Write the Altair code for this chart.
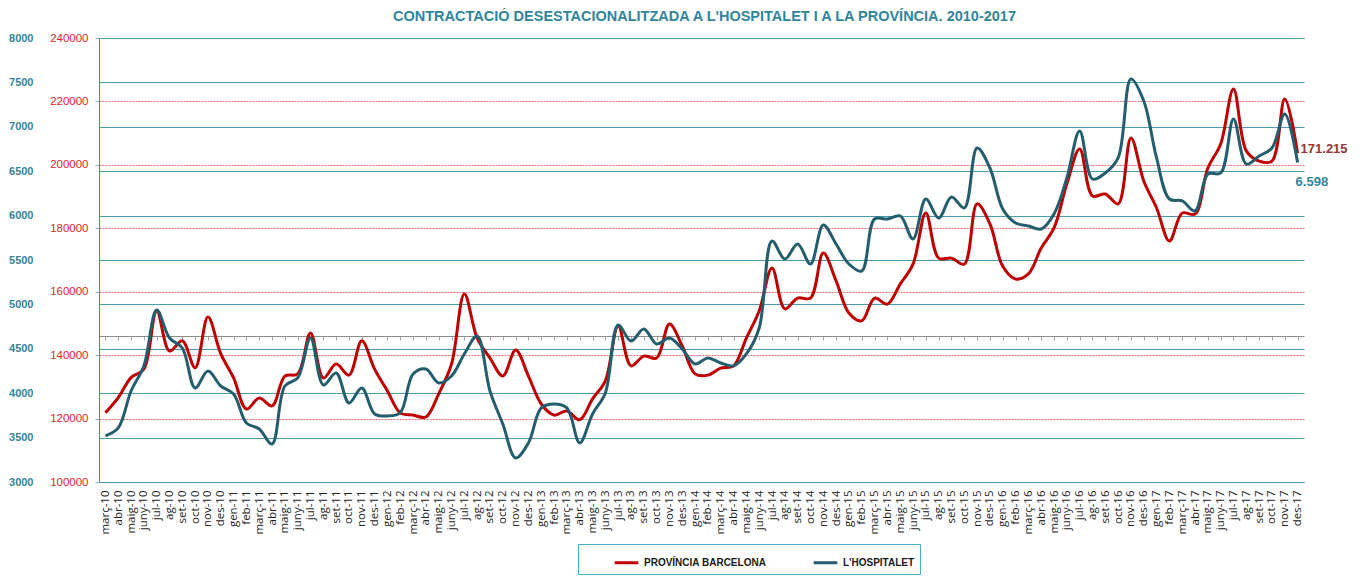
import altair as alt
import pandas as pd

MONTHS = ["març-10","abr-10","maig-10","juny-10","jul-10","ag-10","set-10","oct-10","nov-10","des-10",
"gen-11","feb-11","març-11","abr-11","maig-11","juny-11","jul-11","ag-11","set-11","oct-11","nov-11","des-11",
"gen-12","feb-12","març-12","abr-12","maig-12","juny-12","jul-12","ag-12","set-12","oct-12","nov-12","des-12",
"gen-13","feb-13","març-13","abr-13","maig-13","juny-13","jul-13","ag-13","set-13","oct-13","nov-13","des-13",
"gen-14","feb-14","març-14","abr-14","maig-14","juny-14","jul-14","ag-14","set-14","oct-14","nov-14","des-14",
"gen-15","feb-15","març-15","abr-15","maig-15","juny-15","jul-15","ag-15","set-15","oct-15","nov-15","des-15",
"gen-16","feb-16","març-16","abr-16","maig-16","juny-16","jul-16","ag-16","set-16","oct-16","nov-16","des-16",
"gen-17","feb-17","març-17","abr-17","maig-17","juny-17","jul-17","ag-17","set-17","oct-17","nov-17","des-17"]

PROVINCIA = [121800,126600,132900,135600,153900,141300,144500,136000,152000,140400,
132800,123000,126500,124000,133400,134100,147000,132800,137200,133700,
144500,135600,128700,121800,121100,120500,127800,137200,159300,145400,
139100,133400,141600,133400,124600,121100,122400,119600,126200,131900,
149200,136600,139700,139100,149800,142900,134100,133700,135900,136600,
145400,153900,167500,154600,158000,158000,172200,163400,153300,150800,
158000,156100,162400,168700,184800,170600,170600,168700,187700,181400,
168000,164000,165600,173800,180100,194000,205000,190200,190800,187700,
208500,194900,186400,176000,184800,184500,199000,206600,223900,204400,
201200,201200,220800,203700]

HOSPITALET = [3519,3609,4025,4307,4937,4622,4509,4059,4250,4081,
3991,3665,3597,3428,4081,4172,4622,4093,4228,3890,
4059,3766,3744,3780,4217,4273,4115,4194,4442,4645,
4025,3653,3271,3440,3834,3879,3834,3440,3766,4003,
4768,4588,4723,4554,4622,4498,4329,4397,4340,4307,
4442,4735,5714,5511,5680,5455,5894,5680,5455,5376,
5962,5962,5996,5737,6187,5973,6210,6086,6761,6536,
6074,5917,5883,5849,6018,6424,6953,6412,6480,6649,
7538,7291,6649,6187,6165,6052,6469,6480,7088,6581,
6671,6761,7144,6598]

SERIES = ["PROVÍNCIA BARCELONA", "L'HOSPITALET"]
END_LABELS = ["171.215", "6.598"]
RED_TICKS = [100000,120000,140000,160000,180000,200000,220000,240000]
TEAL_TICKS = [3000,3500,4000,4500,5000,5500,6000,6500,7000,7500,8000]

RED = "#c00000"
TEAL = "#245e6e"

df_p = pd.DataFrame({"mes": MONTHS, "valor": PROVINCIA, "serie": SERIES[0]})
df_h = pd.DataFrame({"mes": MONTHS, "valor": HOSPITALET, "serie": SERIES[1]})
end_p = pd.DataFrame({"mes": [MONTHS[-1]], "valor": [PROVINCIA[-1]], "txt": [END_LABELS[0]]})
end_h = pd.DataFrame({"mes": [MONTHS[-1]], "valor": [HOSPITALET[-1]], "txt": [END_LABELS[1]]})

W, H = 1211, 444
xscale = alt.Scale(domain=MONTHS, range=[0, 1205])
color = alt.Color("serie:N", scale=alt.Scale(domain=SERIES, range=[RED, TEAL]),
                  legend=alt.Legend(title="·", titleOrient="left", titleOpacity=0, titlePadding=26,
                                    orient="none", legendX=479, legendY=506,
                                    direction="horizontal", symbolType="stroke", symbolSize=560,
                                    symbolStrokeWidth=3, labelFont="Liberation Sans", labelFontSize=10,
                                    labelFontWeight="bold", labelColor="#1a1a1a", columnPadding=40,
                                    labelExpr="datum.label == \"L'HOSPITALET\" ? datum.label + '          ' : datum.label",
                                    padding=5, strokeColor="#4bacc6", labelLimit=300))

red_scale = alt.Scale(domain=[100000, 240000], nice=False, zero=False)
teal_scale = alt.Scale(domain=[3000, 8000], nice=False, zero=False)

red_line = alt.Chart(df_p).mark_line(strokeWidth=3, interpolate="catmull-rom").encode(
    x=alt.X("mes:N", sort=MONTHS, scale=xscale, title=None,
            axis=alt.Axis(orient="bottom", labelAngle=270, domain=False, ticks=False, grid=False,
                          labelFont="Open Sans", labelFontSize=11.5, labelColor="#222222", labelPadding=8,
                          labelBaseline="middle", labelAlign="right")),
    y=alt.Y("valor:Q", scale=red_scale, title=None,
            axis=alt.Axis(orient="left", values=RED_TICKS, format="d", labelColor="#e0262b",
                          labelFont="Liberation Sans", labelFontSize=11.5, domainColor="#4f81bd",
                          tickColor="#8db3e2", tickSize=4, labelPadding=7, grid=True, gridColor="#e46c6c",
                          gridDash=[2, 1], gridWidth=1)),
    color=color,
)
red_text = alt.Chart(end_p).mark_text(align="left", baseline="middle", dx=3, dy=-4, fontSize=13,
                                      fontWeight="bold", color="#953735", font="Liberation Sans").encode(
    x=alt.X("mes:N", sort=MONTHS, scale=xscale, axis=None),
    y=alt.Y("valor:Q", scale=red_scale, axis=None),
    text="txt:N",
)

teal_line = alt.Chart(df_h).mark_line(strokeWidth=3, interpolate="catmull-rom").encode(
    x=alt.X("mes:N", sort=MONTHS, scale=xscale, title=None,
            axis=alt.Axis(orient="bottom", labels=False, domain=True, domainColor="#8c8c8c", ticks=True,
                          tickColor="#a6a6a6", tickSize=4, grid=False, offset=-146)),
    y=alt.Y("valor:Q", scale=teal_scale, title=None,
            axis=alt.Axis(orient="left", values=TEAL_TICKS, format="d", labelColor="#31859c",
                          labelFont="Liberation Sans", labelFontSize=11, labelFontWeight="bold",
                          domain=False, ticks=False, tickSize=0, labelPadding=4, offset=62,
                          grid=True, gridColor="#4a9bb2", gridWidth=1)),
    color=color,
)
teal_text = alt.Chart(end_h).mark_text(align="left", baseline="middle", dx=-2, dy=20, fontSize=13,
                                       fontWeight="bold", color="#31859c", font="Liberation Sans").encode(
    x=alt.X("mes:N", sort=MONTHS, scale=xscale, axis=None),
    y=alt.Y("valor:Q", scale=teal_scale, axis=None),
    text="txt:N",
)

chart = alt.layer(red_line, teal_line, red_text, teal_text).resolve_scale(y="independent").resolve_axis(
    x="independent", y="independent").properties(
    width=W, height=H, background="white", padding=0,
    title=alt.TitleParams("CONTRACTACIÓ DESESTACIONALITZADA A L'HOSPITALET I A LA PROVÍNCIA. 2010-2017",
                          anchor="middle", frame="group", fontSize=14.5, font="Liberation Sans",
                          fontWeight="bold", color="#31859c", offset=8),
).configure_view(stroke=None)

chart.save("out.html", embed_options={"renderer": "svg", "actions": False})
